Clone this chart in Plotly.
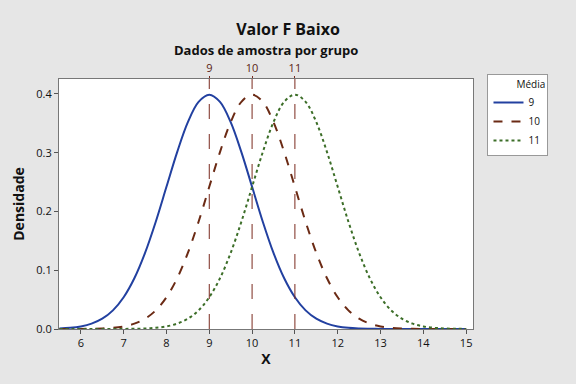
import plotly.graph_objects as go

# Data (density values at x grid, step 0.25)
x_grid = [5.5 + 0.25 * i for i in range(39)]  # 5.5 .. 15.0
dens_9 = [0.0009, 0.0020, 0.0044, 0.0091, 0.0175, 0.0317, 0.0540, 0.0863, 0.1295, 0.1826,
          0.2420, 0.3011, 0.3521, 0.3867, 0.3989, 0.3867, 0.3521, 0.3011, 0.2420, 0.1826,
          0.1295, 0.0863, 0.0540, 0.0317, 0.0175, 0.0091, 0.0044, 0.0020, 0.0009, 0.0004,
          0.0001, 0.0, 0.0, 0.0, 0.0, 0.0, 0.0, 0.0, 0.0]
dens_10 = [0.0, 0.0, 0.0001, 0.0004, 0.0009, 0.0020, 0.0044, 0.0091, 0.0175, 0.0317,
           0.0540, 0.0863, 0.1295, 0.1826, 0.2420, 0.3011, 0.3521, 0.3867, 0.3989, 0.3867,
           0.3521, 0.3011, 0.2420, 0.1826, 0.1295, 0.0863, 0.0540, 0.0317, 0.0175, 0.0091,
           0.0044, 0.0020, 0.0009, 0.0004, 0.0001, 0.0, 0.0, 0.0, 0.0]
dens_11 = [0.0, 0.0, 0.0, 0.0, 0.0, 0.0, 0.0001, 0.0004, 0.0009, 0.0020,
           0.0044, 0.0091, 0.0175, 0.0317, 0.0540, 0.0863, 0.1295, 0.1826, 0.2420, 0.3011,
           0.3521, 0.3867, 0.3989, 0.3867, 0.3521, 0.3011, 0.2420, 0.1826, 0.1295, 0.0863,
           0.0540, 0.0317, 0.0175, 0.0091, 0.0044, 0.0020, 0.0009, 0.0004, 0.0001]
means = [9, 10, 11]
series_names = ["9", "10", "11"]
x_ticks = [6, 7, 8, 9, 10, 11, 12, 13, 14, 15]
y_ticks = [0.0, 0.1, 0.2, 0.3, 0.4]

colors = ["#2240A0", "#6B2A14", "#3C6E28"]
dashes = ["solid", "dash", "dot"]
ref_color = "#7A2A1E"

fig = go.Figure()
for name, ys, c, d in zip(series_names, [dens_9, dens_10, dens_11], colors, dashes):
    fig.add_trace(go.Scatter(x=x_grid, y=ys, mode="lines", name=name,
                             line=dict(color=c, width=2, dash=d, shape="spline", smoothing=1.0),
                             xaxis="x", yaxis="y"))

# reference lines at the means
for m in means:
    fig.add_trace(go.Scatter(x=[m, m], y=[0, 0.4255], mode="lines", showlegend=False,
                             line=dict(color=ref_color, width=1, dash="longdash"),
                             xaxis="x", yaxis="y", hoverinfo="skip"))

fig.update_layout(
    width=576, height=384,
    paper_bgcolor="#E6E6E6", plot_bgcolor="white",
    margin=dict(l=59, r=103, t=79, b=55),
    font=dict(family="Open Sans, DejaVu Sans, sans-serif", size=11, color="#111111"),
    title=dict(text="<b>Valor F Baixo</b>",
               x=0.5, xanchor="center", y=0.923, yanchor="middle", font=dict(size=16)),
    annotations=[dict(text="<b>Dados de amostra por grupo</b>", xref="paper", yref="paper",
                      x=0.5, y=1.0, yshift=29, xanchor="center", yanchor="middle",
                      showarrow=False, font=dict(size=13))],
    xaxis=dict(range=[5.49, 15.16], tickvals=x_ticks, ticks="outside", ticklen=4,
               tickcolor="#555", showline=True, linecolor="#777", mirror=True,
               showgrid=False, zeroline=False,
               title=dict(text="<b>X</b>", font=dict(size=14), standoff=4)),
    xaxis2=dict(range=[5.49, 15.16], overlaying="x", side="top", tickvals=means,
                ticktext=series_names, ticks="outside", ticklen=2, tickcolor=ref_color,
                tickfont=dict(color="#5A1E14"), showgrid=False, zeroline=False),
    yaxis=dict(range=[0, 0.4255], tickvals=y_ticks, tickformat=".1f", ticks="outside",
               ticklen=4, tickcolor="#555", showline=True, linecolor="#777", mirror=True,
               showgrid=False, zeroline=False,
               title=dict(text="<b>Densidade</b>", font=dict(size=14), standoff=8)),
    legend=dict(x=1.035, y=1.02, xanchor="left", yanchor="top", bgcolor="white",
                bordercolor="#999", borderwidth=1, font=dict(size=10),
                title=dict(text="          Média", font=dict(size=10)),
                tracegroupgap=0),
    showlegend=True,
)
# dummy trace to activate top axis
fig.add_trace(go.Scatter(x=[9], y=[None], xaxis="x2", yaxis="y", showlegend=False,
                         hoverinfo="skip"))

fig.write_html("out.html")
